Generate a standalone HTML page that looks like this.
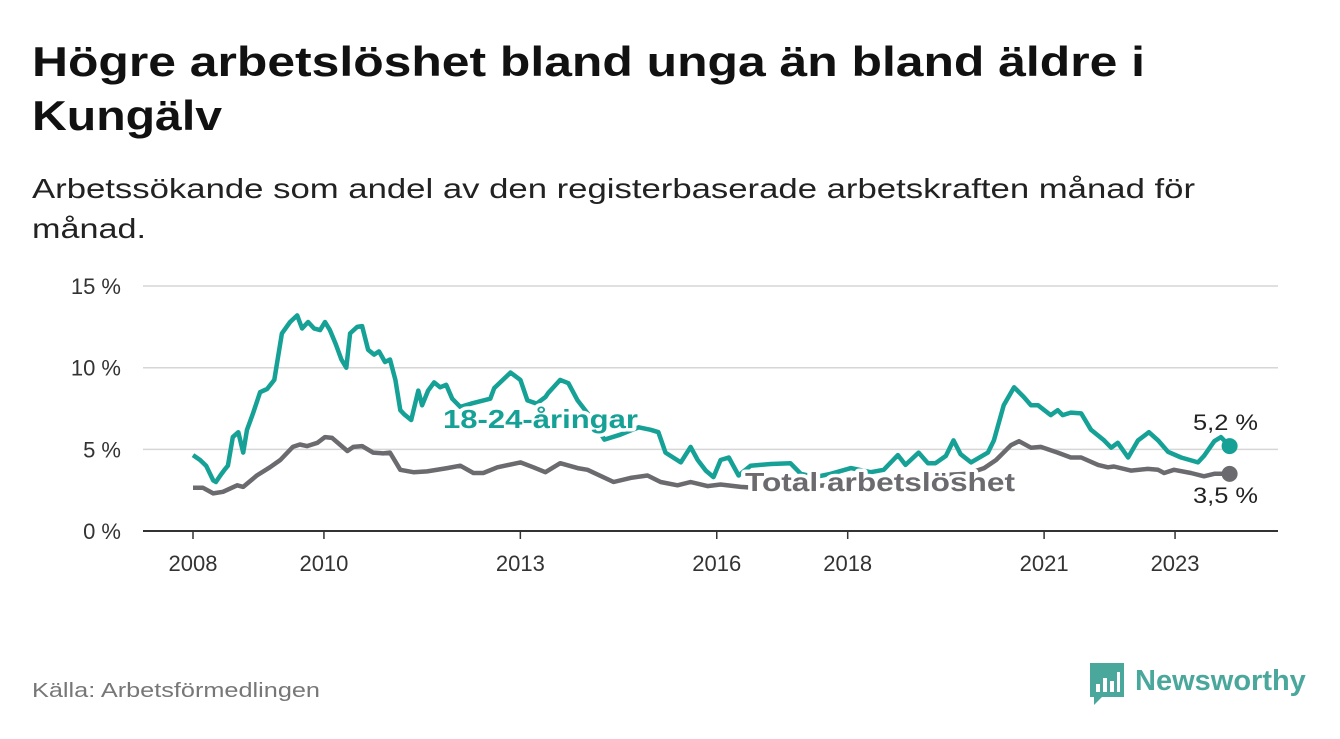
<!DOCTYPE html>
<html><head><meta charset="utf-8">
<style>
body{margin:0;background:#fff;width:1340px;height:734px;overflow:hidden;font-family:"Liberation Sans","DejaVu Sans",sans-serif;}
svg text{font-family:"Liberation Sans","DejaVu Sans",sans-serif;}
</style></head>
<body>
<svg id="chart" width="1340" height="734" viewBox="0 0 1340 734">
<text x="32" y="76" font-size="42" font-weight="bold" fill="#111" textLength="1113" lengthAdjust="spacingAndGlyphs">Högre arbetslöshet bland unga än bland äldre i</text>
<text x="32" y="130" font-size="42" font-weight="bold" fill="#111" textLength="190" lengthAdjust="spacingAndGlyphs">Kungälv</text>
<text x="32" y="198" font-size="28" fill="#222" textLength="1163" lengthAdjust="spacingAndGlyphs">Arbetssökande som andel av den registerbaserade arbetskraften månad för</text>
<text x="32" y="238" font-size="28" fill="#222" textLength="114" lengthAdjust="spacingAndGlyphs">månad.</text>
<g id="grid"></g><g id="series"></g><g id="labels"></g>
<text x="32" y="697" font-size="20" fill="#777" textLength="288" lengthAdjust="spacingAndGlyphs">Källa: Arbetsförmedlingen</text>
<g>
<path d="M1090 663h34v34h-22l-8 8v-8h-4z" fill="#4aa79c"/>
<rect x="1096" y="684" width="4" height="8" fill="#fff"/><rect x="1103" y="678" width="4" height="14" fill="#fff"/><rect x="1110" y="681" width="4" height="11" fill="#fff"/><rect x="1117" y="672" width="3" height="20" fill="#fff"/>
<text x="1135" y="690" font-size="29" font-weight="bold" fill="#4aa79c">Newsworthy</text>
</g>
</svg>
<script>
const yTicks=[0,5,10,15];
const xTicks=[2008,2010,2013,2016,2018,2021,2023];
const youthMonths=[0,1.3,2.4,3.7,4.2,5,5.9,6.4,7.3,8.3,9.2,9.9,11,12.3,13.6,14.9,16.3,17.8,19.1,20,21.1,22.2,23.3,24.2,25.1,26.1,27.2,28.1,28.8,30.1,31,32.1,33.2,34.1,35.2,36.1,37.1,38,38.7,40,41.3,42,43.1,44.2,45.3,46.4,47.5,49,51,54.5,55.2,58.2,60,61.3,63,64.6,65.1,67.3,68.8,70.5,72.8,75.4,78.3,81.7,83.9,85.3,86.6,89.4,91.2,92.5,94,95.4,96.7,98.2,100,102.2,105.9,109.5,111.4,114,116.9,120.6,124.2,126.6,129.2,130.6,133,134.7,136.1,138,139.4,140.7,142.6,145.7,146.8,148.6,150.5,152.3,153.6,154.9,157.2,158.5,159.4,160.9,162.8,164.6,167,168.3,169.5,171.4,173.2,175.2,176.9,178.7,181.1,184.2,185.3,187.2,188.4,190];
const youthValues=[4.65,4.35,4.0,3.1,3.0,3.4,3.8,4.0,5.75,6.05,4.8,6.2,7.2,8.5,8.7,9.25,12.1,12.8,13.2,12.4,12.8,12.4,12.3,12.8,12.3,11.5,10.5,10.0,12.1,12.5,12.55,11.1,10.8,11.0,10.35,10.5,9.25,7.4,7.15,6.8,8.6,7.7,8.6,9.1,8.8,8.95,8.1,7.6,7.8,8.1,8.75,9.7,9.25,8.0,7.8,8.2,8.45,9.25,9.05,8.0,7.0,5.6,5.9,6.35,6.2,6.05,4.8,4.2,5.15,4.35,3.7,3.3,4.35,4.5,3.4,4.0,4.1,4.15,3.5,3.3,3.5,3.85,3.6,3.75,4.65,4.05,4.8,4.15,4.15,4.6,5.55,4.7,4.2,4.8,5.55,7.7,8.8,8.2,7.7,7.7,7.1,7.4,7.1,7.25,7.2,6.2,5.55,5.1,5.4,4.5,5.55,6.05,5.55,4.85,4.5,4.2,4.6,5.5,5.75,5.2];
const totalMonths=[0,1.8,3.7,5.5,8.1,9.2,11.7,14.1,16,18.3,19.6,20.9,22.8,24.2,25.5,28.3,29.4,31,33,34.9,36.1,38,40.4,42.9,46.6,49,51.4,53.2,55.8,60,62.4,64.6,67.3,70.5,72.3,77.1,80.2,83.3,85.7,88.8,91.2,94.3,96.7,100.4,105,112,120,128,136,142,145,147.2,149.9,151.4,153.6,155.4,158.5,160.9,162.8,165.9,167.7,168.8,171.9,175,176.9,178,179.8,182.9,185.3,187.2,190];
const totalValues=[2.65,2.65,2.3,2.4,2.8,2.7,3.4,3.9,4.35,5.15,5.3,5.2,5.4,5.75,5.7,4.9,5.15,5.2,4.8,4.75,4.8,3.75,3.6,3.65,3.85,4.0,3.55,3.55,3.9,4.2,3.9,3.6,4.15,3.85,3.75,3.0,3.25,3.4,3.0,2.8,3.0,2.75,2.85,2.7,2.6,2.7,2.9,3.1,3.4,3.5,3.85,4.35,5.25,5.5,5.1,5.15,4.8,4.5,4.5,4.05,3.9,3.95,3.7,3.8,3.75,3.55,3.75,3.55,3.35,3.5,3.5];
const NS='http://www.w3.org/2000/svg';
const x=yr=>193+(yr-2008)*65.47;
const xm=m=>x(2008+m/12);
const y=v=>531-v*16.33;
function mk(tag,attrs,parent,txt){const e=document.createElementNS(NS,tag);for(const k in attrs)e.setAttribute(k,attrs[k]);if(txt!==undefined)e.textContent=txt;parent.appendChild(e);return e;}
const grid=document.getElementById('grid');
yTicks.forEach(t=>{
 const l=mk('line',{x1:143,x2:1278,y1:y(t),y2:y(t),stroke:t===0?'#333':'#d6d6d6','stroke-width':t===0?2:1.5},grid);
 
 
 const tx=mk('text',{x:121,y:y(t)+8,'text-anchor':'end','font-size':22,fill:'#333'},grid,t+' %');
 
 
});
xTicks.forEach(t=>{
 const l=mk('line',{x1:x(t),x2:x(t),y1:531,y2:539,stroke:'#333','stroke-width':1.5},grid);
 
 
 const tx=mk('text',{x:x(t),y:571,'text-anchor':'middle','font-size':22,fill:'#333'},grid,String(t));
 
 
});
const S=document.getElementById('series');
function line(ms,vs,col,name){
 const d=ms.map((m,i)=>(i?'L':'M')+xm(m).toFixed(1)+' '+y(vs[i]).toFixed(1)).join(' ');
 const p=mk('path',{d:d,fill:'none',stroke:col,'stroke-width':4.5,'stroke-linejoin':'round'},S);
 
 
 const c=mk('circle',{cx:xm(ms[ms.length-1]),cy:y(vs[vs.length-1]),r:8,fill:col},S);
 
 
}
line(totalMonths,totalValues,'#6b6a6e','total');
line(youthMonths,youthValues,'#15a196','youth');
const L=document.getElementById('labels');
function lab(t,xx,yy,col,fs,w,name,halo,len){
 const a={x:xx,y:yy,fill:col,'font-size':fs,'font-weight':w,stroke:halo?'#fff':'none','stroke-width':halo?7:0,'paint-order':'stroke','stroke-linejoin':'round'};
 if(len){a.textLength=len;a.lengthAdjust='spacingAndGlyphs';}
 const e=mk('text',a,L,t);
 
 
}
lab('18-24-åringar',443,428,'#15a196',26,'bold','youth-series-label',true,195);
lab('Total arbetslöshet',745,491,'#6b6a6e',26,'bold','total-series-label',true,270);
lab(String(youthValues[youthValues.length-1]).replace('.',',')+' %',1193,430,'#222',22,'normal','youth-end-value',true,65);
lab(String(totalValues[totalValues.length-1]).replace('.',',')+' %',1193,503,'#222',22,'normal','total-end-value',true,65);
</script>
</body></html>
